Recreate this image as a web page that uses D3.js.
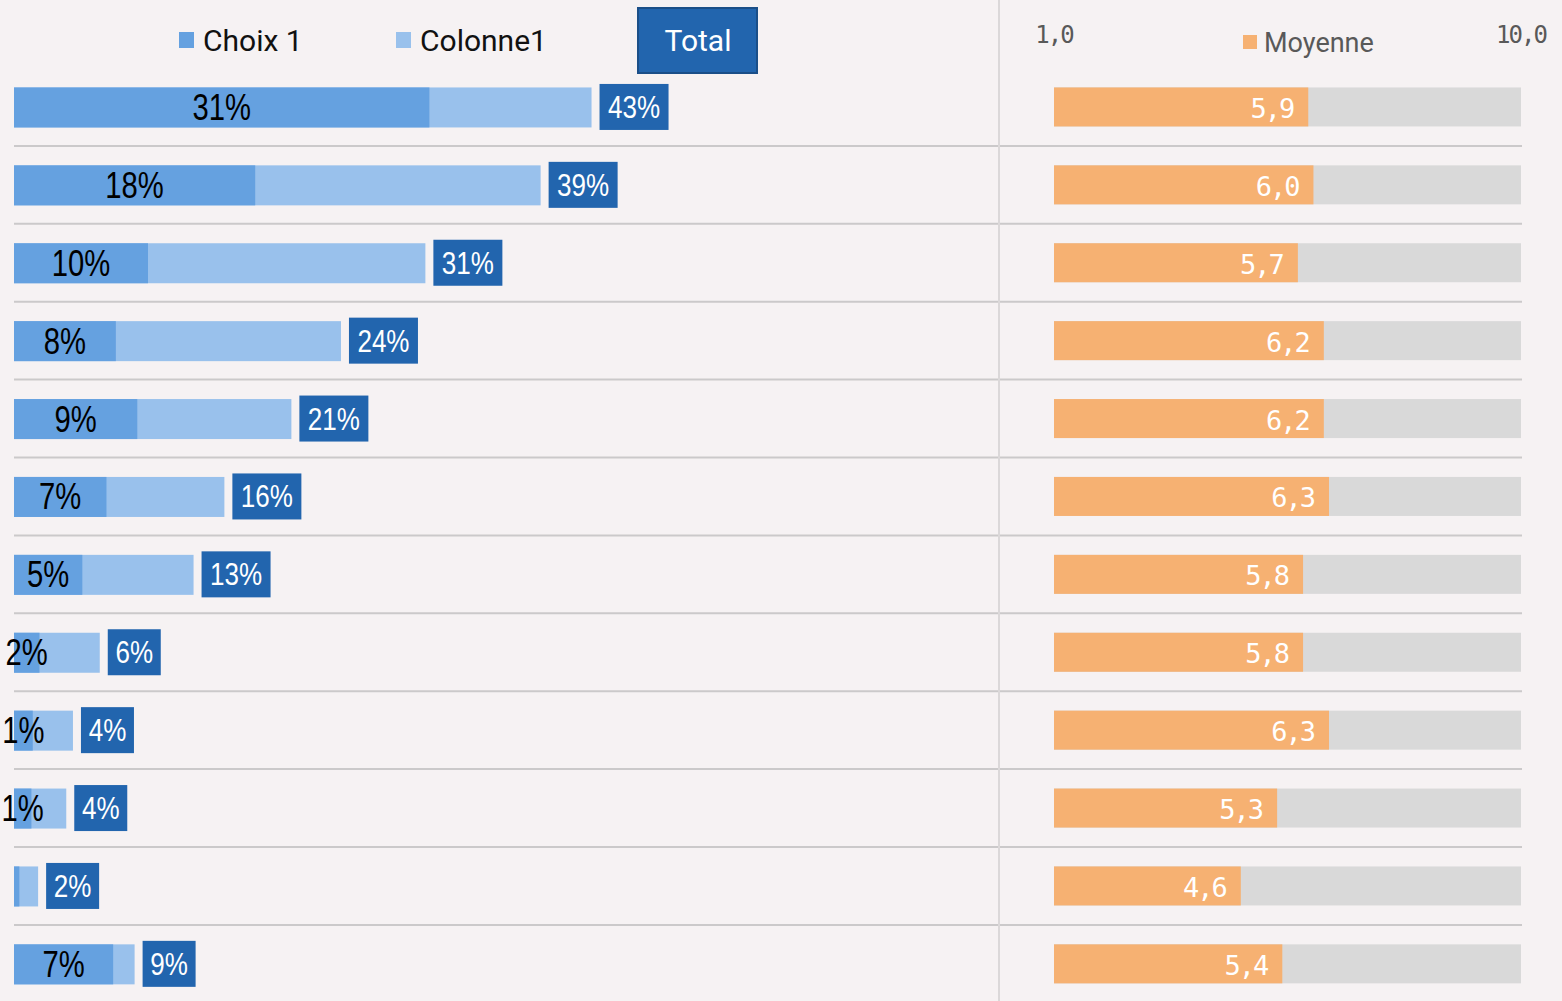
<!DOCTYPE html>
<html>
<head>
<meta charset="utf-8">
<script src="https://cdn.jsdelivr.net/npm/d3@7"></script>
<style>
  html, body { margin: 0; padding: 0; background: #f6f2f3; }
  svg { display: block; }
</style>
</head>
<body>
<svg width="1562" height="1001"></svg>
<script>
// rows, top to bottom
const rows = ['1','2','3','4','5','6','7','8','9','10','11','12'];
// share of respondents (fractions)
const choix1   = [0.310, 0.180, 0.100, 0.076, 0.092, 0.069, 0.051, 0.019, 0.014, 0.013, 0.004, 0.074];
const colonne1 = [0.121, 0.213, 0.207, 0.168, 0.115, 0.088, 0.083, 0.045, 0.030, 0.026, 0.014, 0.016];
// average score, 1 to 10
const moyenne  = [5.9, 6.0, 5.7, 6.2, 6.2, 6.3, 5.8, 5.8, 6.3, 5.3, 4.6, 5.4];
const scoreTicks = [1, 10];

const svg = d3.select('svg');
const width = +svg.attr('width');
const height = +svg.attr('height');

const narrow = "'Liberation Sans', Arial, sans-serif";
const sans = "Roboto, 'Noto Sans', sans-serif";
const mono = "'DejaVu Sans Mono', monospace";
const fr = d3.formatLocale({decimal: ',', thousands: ' ', grouping: [3], currency: ['', ' €']});
const pct = v => Math.round(v * 100) + '%';
const one = fr.format('.1f');

const y = d3.scaleBand().domain(rows).range([68, 68 + 77.9 * rows.length]).padding(0);
const x = d3.scaleLinear().domain([0, 1]).range([14, 14 + 1340]);
const xs = d3.scaleLinear().domain([1, 10]).range([1054, 1521]);

const data = rows.map((r, i) => ({
    row: r, c1: choix1[i], col: colonne1[i], total: choix1[i] + colonne1[i], moy: moyenne[i]
}));

// separators
svg.append('g').selectAll('line').data(rows.slice(1))
    .join('line')
    .attr('x1', 14).attr('x2', 1522)
    .attr('y1', d => y(d)).attr('y2', d => y(d))
    .attr('stroke', '#cbc9ca').attr('stroke-width', 2);

svg.append('line')
    .attr('x1', 999).attr('x2', 999).attr('y1', 0).attr('y2', height)
    .attr('stroke', '#dbd8d9').attr('stroke-width', 2);

// legend left
const legend = [
    {name: 'Choix 1', color: '#65a1e0', x: 179},
    {name: 'Colonne1', color: '#99c1ec', x: 396}
];
const lg = svg.append('g').selectAll('g').data(legend).join('g');
lg.append('rect').attr('x', d => d.x).attr('y', 32).attr('width', 15).attr('height', 16).attr('fill', d => d.color);
lg.append('text').attr('x', d => d.x + 24).attr('y', 51)
    .attr('font-family', sans).attr('font-size', 30).attr('fill', '#111')
    .text(d => d.name);

svg.append('rect').attr('x', 638).attr('y', 8).attr('width', 119).attr('height', 65)
    .attr('fill', '#2265ae').attr('stroke', '#1b4f88').attr('stroke-width', 2);
svg.append('text').attr('x', 698).attr('y', 51).attr('text-anchor', 'middle')
    .attr('font-family', sans).attr('font-size', 30).attr('fill', '#fff').text('Total');

// stacked bars
const bh = 40;
const row = svg.append('g').selectAll('g').data(data).join('g')
    .attr('transform', d => `translate(0,${y(d.row) + y.bandwidth() / 2})`);

row.append('rect')
    .attr('x', x(0)).attr('y', -bh / 2 + 0.5)
    .attr('width', d => x(d.total) - x(0)).attr('height', bh)
    .attr('fill', '#99c1ec');
row.append('rect')
    .attr('x', x(0)).attr('y', -bh / 2 + 0.5)
    .attr('width', d => x(d.c1) - x(0)).attr('height', bh)
    .attr('fill', '#65a1e0');
row.filter(d => Math.round(d.c1 * 100) >= 1).append('text')
    .attr('transform', d => `translate(${(x(0) + x(d.c1)) / 2},13) scale(0.79,1)`)
    .attr('text-anchor', 'middle')
    .attr('font-family', narrow).attr('font-size', 37).attr('fill', '#000')
    .text(d => pct(d.c1));

// total boxes
const boxW = d => pct(d.total).length > 2 ? 69 : 53;
row.append('rect')
    .attr('x', d => x(d.total) + 8).attr('y', -23)
    .attr('width', boxW).attr('height', 46)
    .attr('fill', '#2265ae');
row.append('text')
    .attr('transform', d => `translate(${x(d.total) + 8 + boxW(d) / 2},11) scale(0.84,1)`)
    .attr('text-anchor', 'middle')
    .attr('font-family', narrow).attr('font-size', 31).attr('fill', '#fff')
    .text(d => pct(d.total));

// score part
svg.append('g').selectAll('text').data(scoreTicks).join('text')
    .attr('x', d => xs(d)).attr('y', 43).attr('text-anchor', 'middle')
    .attr('font-family', mono).attr('font-size', 24).attr('letter-spacing', -2).attr('fill', '#595959')
    .text(d => one(d));

svg.append('rect').attr('x', 1243).attr('y', 35).attr('width', 14).attr('height', 14).attr('fill', '#f6b172');
svg.append('text').attr('x', 1264).attr('y', 52)
    .attr('font-family', sans).attr('font-size', 27).attr('fill', '#595959').text('Moyenne');

row.append('rect')
    .attr('x', xs(1)).attr('y', -19.5).attr('width', xs(10) - xs(1)).attr('height', 39)
    .attr('fill', '#d9d9d9');
row.append('rect')
    .attr('x', xs(1)).attr('y', -19.5).attr('width', d => xs(d.moy) - xs(1)).attr('height', 39)
    .attr('fill', '#f6b172');
row.append('text')
    .attr('x', d => xs(d.moy) - 15).attr('y', 11)
    .attr('text-anchor', 'end')
    .attr('font-family', mono).attr('font-size', 27).attr('letter-spacing', -2).attr('fill', '#fff')
    .text(d => one(d.moy));
</script>
</body>
</html>
